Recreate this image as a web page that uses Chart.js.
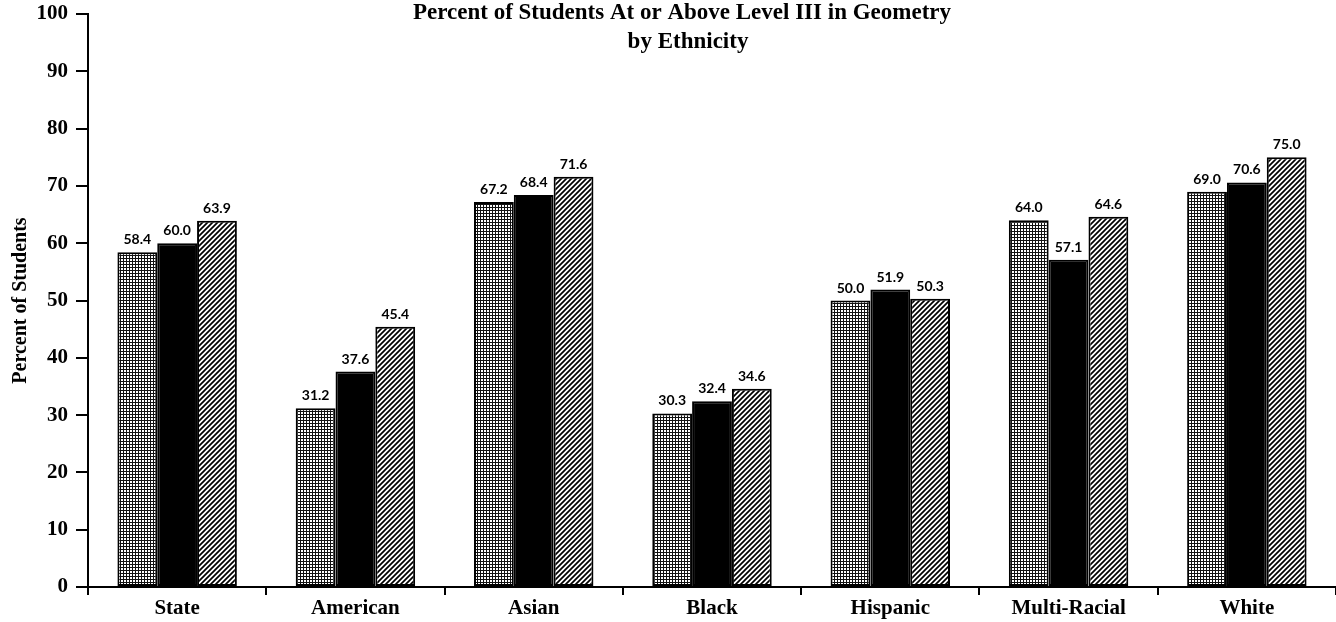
<!DOCTYPE html>
<html>
<head>
<meta charset="utf-8">
<script src="https://cdn.jsdelivr.net/npm/chart.js@4"></script>
<style>
  html, body { margin: 0; padding: 0; background: #fff; }
  #wrap { width: 1336px; height: 622px; position: relative; }
</style>
</head>
<body>
<div id="wrap"><canvas id="grafico"></canvas></div>
<script>
// datos
const categorias = ['State', 'American', 'Asian', 'Black', 'Hispanic', 'Multi-Racial', 'White'];
const serieA = [58.4, 31.2, 67.2, 30.3, 50.0, 64.0, 69.0];
const serieB = [60.0, 37.6, 68.4, 32.4, 51.9, 57.1, 70.6];
const serieC = [63.9, 45.4, 71.6, 34.6, 50.3, 64.6, 75.0];
const nombresSeries = ['Year 1', 'Year 2', 'Year 3'];
const titulo = ['Percent of Students At or Above Level III in Geometry', 'by Ethnicity'];
const tituloEjeY = 'Percent of Students';

const serif = '"Liberation Serif", "Times New Roman", serif';

// patrones de relleno
function patronCuadricula() {
  const c = document.createElement('canvas');
  c.width = 3; c.height = 3;
  const g = c.getContext('2d');
  g.fillStyle = '#fff';
  g.fillRect(0, 0, 3, 3);
  g.fillStyle = '#111';
  g.fillRect(0, 0, 3, 1);
  g.fillRect(0, 0, 1, 3);
  return g.createPattern(c, 'repeat');
}
function patronRayado() {
  const c = document.createElement('canvas');
  c.width = 5; c.height = 5;
  const g = c.getContext('2d');
  g.fillStyle = '#fff';
  g.fillRect(0, 0, 5, 5);
  g.strokeStyle = '#000';
  g.lineWidth = 1.7;
  g.beginPath();
  g.moveTo(-1, 6); g.lineTo(6, -1);
  g.moveTo(-4, 4); g.lineTo(4, -4);
  g.moveTo(1, 9); g.lineTo(9, 1);
  g.stroke();
  return g.createPattern(c, 'repeat');
}

// etiquetas sobre las barras + titulo
const pluginEtiquetas = {
  id: 'etiquetas',
  afterDatasetsDraw(chart) {
    const ctx = chart.ctx;
    ctx.save();
    ctx.fillStyle = '#000';
    ctx.font = 'bold 14px Lato, sans-serif';
    ctx.textAlign = 'center';
    ctx.textBaseline = 'alphabetic';
    chart.data.datasets.forEach((ds, i) => {
      const meta = chart.getDatasetMeta(i);
      meta.data.forEach((bar, j) => {
        ctx.fillText(ds.data[j].toFixed(1), bar.x, bar.y - 8);
      });
    });
    ctx.restore();
  },
  afterDraw(chart) {
    const ctx = chart.ctx;
    ctx.save();
    ctx.fillStyle = '#000';
    ctx.font = 'bold 23px ' + serif;
    ctx.textAlign = 'center';
    ctx.textBaseline = 'middle';
    ctx.fillText(titulo[0], 682, 13);
    ctx.fillText(titulo[1], 688, 42);
    ctx.restore();
  }
};

const rellenos = [patronCuadricula(), '#000', patronRayado()];

new Chart(document.getElementById('grafico'), {
  type: 'bar',
  data: {
    labels: categorias,
    datasets: [serieA, serieB, serieC].map((d, i) => ({
      label: nombresSeries[i],
      data: d,
      backgroundColor: rellenos[i],
      borderColor: '#000',
      borderWidth: 2,
      borderSkipped: false
    }))
  },
  options: {
    responsive: true,
    maintainAspectRatio: false,
    animation: false,
    categoryPercentage: 0.67,
    barPercentage: 1.0,
    layout: { padding: 0 },
    plugins: {
      legend: { display: false },
      tooltip: { enabled: false }
    },
    scales: {
      y: {
        min: 0,
        max: 100,
        ticks: { stepSize: 10, color: '#000', padding: 8, font: { family: serif, size: 21, weight: 'bold' } },
        grid: { drawOnChartArea: false, drawTicks: true, tickLength: 12, color: '#000', lineWidth: 2 },
        border: { display: true, color: '#000', width: 2 },
        title: { display: true, text: tituloEjeY, color: '#000', padding: { top: 9, bottom: 0 }, font: { family: serif, size: 20, weight: 'bold' } },
        afterFit(scale) {
          scale.width = 88;
          scale.paddingTop = 14;
          scale.paddingBottom = 0;
        }
      },
      x: {
        ticks: { color: '#000', padding: 1, autoSkip: false, maxRotation: 0, font: { family: serif, size: 21, weight: 'bold' } },
        grid: { offset: true, drawOnChartArea: false, drawTicks: true, tickLength: 8, color: '#000', lineWidth: 2 },
        border: { display: true, color: '#000', width: 2 },
        afterFit(scale) { scale.height = 35; }
      }
    }
  },
  plugins: [pluginEtiquetas]
});
</script>
</body>
</html>
